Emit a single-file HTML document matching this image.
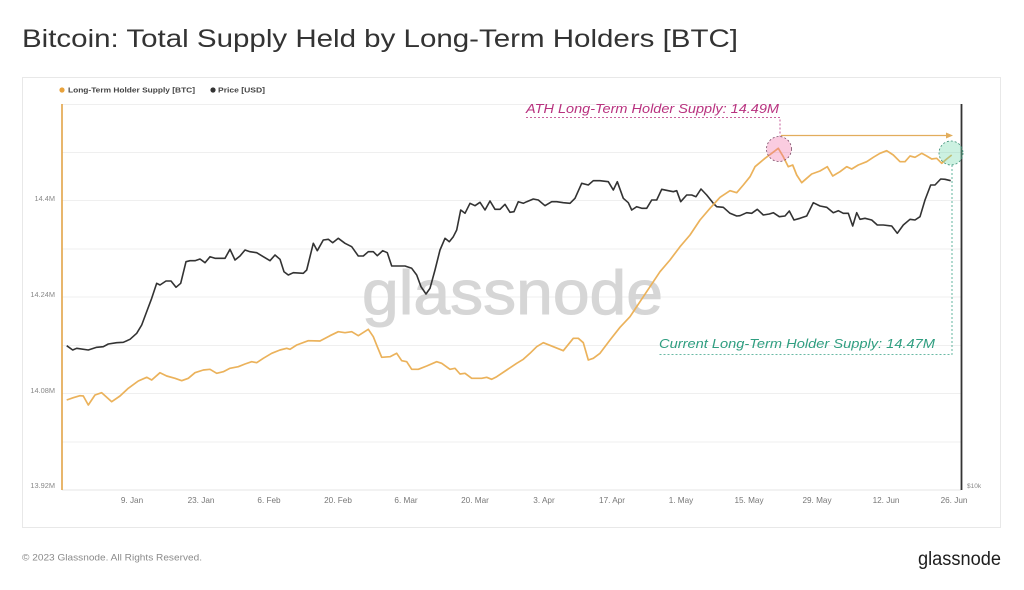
<!DOCTYPE html>
<html><head><meta charset="utf-8"><style>
html,body{margin:0;padding:0;background:#fff;}
svg{display:block;}
text{font-family:"Liberation Sans",sans-serif;}
</style></head><body>
<svg width="1024" height="590" viewBox="0 0 1024 590" xmlns="http://www.w3.org/2000/svg">
<rect width="1024" height="590" fill="#fff"/>
<text x="22" y="47" font-size="25" fill="#333" textLength="716" lengthAdjust="spacingAndGlyphs">Bitcoin: Total Supply Held by Long-Term Holders [BTC]</text>
<rect x="22.5" y="77.5" width="978" height="450" fill="#fff" stroke="#e8e8e8" stroke-width="1"/>
<!-- legend -->
<circle cx="62" cy="90" r="2.6" fill="#e8a23c"/>
<text x="68" y="92.5" font-size="7.2" font-weight="bold" fill="#444" textLength="127" lengthAdjust="spacingAndGlyphs">Long-Term Holder Supply [BTC]</text>
<circle cx="213" cy="90" r="2.6" fill="#333"/>
<text x="218" y="92.5" font-size="7.2" font-weight="bold" fill="#444" textLength="47" lengthAdjust="spacingAndGlyphs">Price [USD]</text>
<!-- gridlines -->
<g stroke="#efefef" stroke-width="1">
<line x1="62" y1="104.5" x2="961" y2="104.5"/>
<line x1="62" y1="152.5" x2="961" y2="152.5"/>
<line x1="62" y1="200.5" x2="961" y2="200.5"/>
<line x1="62" y1="249" x2="961" y2="249"/>
<line x1="62" y1="297" x2="961" y2="297"/>
<line x1="62" y1="345.5" x2="961" y2="345.5"/>
<line x1="62" y1="393.5" x2="961" y2="393.5"/>
<line x1="62" y1="442" x2="961" y2="442"/>
<line x1="62" y1="490" x2="961" y2="490" stroke="#e4e4e4"/>
</g>
<!-- y labels -->
<g font-size="7.4" fill="#888" text-anchor="end">
<text x="55" y="201">14.4M</text>
<text x="55" y="297">14.24M</text>
<text x="55" y="393">14.08M</text>
<text x="55" y="488">13.92M</text>
</g>
<text x="967" y="488" font-size="6.5" fill="#888">$10k</text>
<!-- x labels -->
<g font-size="8.2" fill="#777" text-anchor="middle">
<text x="132" y="503">9. Jan</text>
<text x="201" y="503">23. Jan</text>
<text x="269" y="503">6. Feb</text>
<text x="338" y="503">20. Feb</text>
<text x="406" y="503">6. Mar</text>
<text x="475" y="503">20. Mar</text>
<text x="544" y="503">3. Apr</text>
<text x="612" y="503">17. Apr</text>
<text x="681" y="503">1. May</text>
<text x="749" y="503">15. May</text>
<text x="817" y="503">29. May</text>
<text x="886" y="503">12. Jun</text>
<text x="954" y="503">26. Jun</text>
</g>
<!-- watermark -->
<text x="362" y="314" font-size="62" fill="#d6d6d6" stroke="#d6d6d6" stroke-width="1" textLength="301" lengthAdjust="spacingAndGlyphs">glassnode</text>
<!-- axes -->
<line x1="62" y1="104" x2="62" y2="490" stroke="#e3a447" stroke-width="1.6"/>
<line x1="961.5" y1="104" x2="961.5" y2="490" stroke="#333" stroke-width="1.8"/>
<!-- black price line -->
<polyline fill="none" stroke="#333" stroke-width="1.6" stroke-linejoin="round" points="66.7,345.7 72.7,350 76.7,348.3 88.3,350 96.7,347.3 103.3,346.7 108.3,344 116.7,342.7 123.3,342.3 130,339.3 136.7,333.3 141.7,325 147.3,310 151.7,298.3 156.7,283.3 160,285 166,281 171,281 176,287.3 180.7,283.3 186,261.7 190,260.7 195,260.7 200,259 205,262.7 210,256.7 215,258.3 220,258.3 225,258.3 230,249.3 235,260 240,256 245,250 250,251.7 256.7,252.7 263.3,256.7 270,260.7 275,255 280,259.3 284,271.7 288.3,275 293.3,272.7 303.3,273.3 306.7,270 313.3,243.3 317.3,250.7 323.3,240 328.3,239.3 332.7,242.7 338.3,238.3 345,243.3 351.7,246.7 358.3,256 363.3,256 368.3,251.7 373.3,251.7 377.3,255.7 382.7,250.7 387.3,252.7 391.7,266 398.3,266 405,266 411.7,268.3 416.7,275 421,286.7 426,294 430,288.3 435,270 440,250 445,238.3 449.3,241.7 453.3,236.7 456.7,230 460.7,210 465,213.3 470,203.3 475,205.7 480,202.3 485,210 490,201 495,209.3 500,209.3 505,204.3 510,212.3 514,211.7 518.3,201.7 523.3,203.3 526.7,201.7 533.3,199 538.3,200 545,205.7 551.7,201.7 556.7,201.7 563.3,202.7 570,203.3 575,198.3 581.7,183.3 588.3,185 593.3,180.7 600,180.7 608.3,181.7 613.3,190 617.3,181.7 623.3,198.3 628.3,202.7 631.7,210 636.7,206.7 641.7,208.3 646.7,208.3 651.7,200 656.7,200 661.7,189.3 668.3,190.7 673.3,191.7 676.7,190.7 680.7,201.7 686.7,195 691.7,195 696,196.7 701,189 706.7,195 713.3,203.3 716.7,206.7 723.3,207.3 730,213.3 736.7,216 740,215.7 746.7,212.7 751.7,213.3 757.3,209.3 763.3,215 769.3,214 773.3,212.7 779.3,216.7 785,216 789.3,211 794,220 800,218.3 806.7,216 813.3,202.7 820,206 826.7,207.3 833.3,212.7 838.3,210.7 843.3,213.3 848.3,213.3 852.7,226 856.7,212.7 860,219.3 865,218.3 871.7,220 877.3,225 883.3,225 891.7,226 897.3,233.3 903.3,225 910,219.3 915,220 920,216.7 925,200 930.7,185 935,185 940.7,179 945,179.3 950.7,180.7"/>
<!-- orange LTH supply line -->
<polyline fill="none" stroke="#ebb25b" stroke-width="1.7" stroke-linejoin="round" points="66.7,400 73.3,397.7 80,395.7 83.3,396 88.3,405 95,395 101.7,392.7 111.7,401.7 120,396 128.3,388.3 138.3,381 146.7,377.3 151.7,380 160,372.7 166.7,376 175,378.3 181.7,380.7 188.3,378.3 195,372.7 203.3,370 210,369.3 216.7,373.3 223.3,371.7 230,368.3 238.3,366.7 245,364 251.7,361.7 256.7,362.7 263.3,358.3 271.7,353.3 280,350 286.7,348.3 290,349.3 296.7,345 308.3,340.7 320,341 330,335.7 338.3,331.7 345,332.7 351.7,331.7 358.3,335.7 368.3,329.3 373.3,336.7 377.3,346.7 381.7,357.3 390,356.7 396.7,353.3 401.7,360.7 406.7,361.7 411.7,369.3 418.3,369.3 426.7,366 436.7,361.7 441.7,363.3 450,369.3 455,368.3 460,374 465,373.3 471.7,378.3 481.7,378.3 486.7,377.3 491.7,379.3 496.7,376.7 506.7,370 516.7,363.3 523.3,359.3 530,353.3 536.7,346.7 543.3,342.7 553.3,346.7 563.3,350.7 573.3,338.3 578.3,338.3 583.3,342.7 588.3,360 593.3,358.3 600,353.3 610,340 620,327.3 630,316.7 640,301.7 650,286.7 660,271.7 670,260 680,246.7 690,235 700,220 710,208.3 720,197.3 730,190.7 736.7,192.7 743.3,185 750,176.7 755,166.7 765,158.3 771.7,153.3 778.3,148.3 783.3,156.7 788.3,166.7 792.7,165 796.7,175 801.7,182.7 806.7,178.3 811.7,174 820,171 827.3,166.7 832.7,176 840,171.7 846.7,166.7 851.7,169 858.3,165 866.7,161.7 873.3,157.3 880,153.3 886.7,150.7 893.3,155 900,161.7 905,161.7 910,156 915,157.3 921.7,153.3 926.7,156 931.7,159 936.7,158.3 941.7,163.3 946.7,159 951.7,155"/>
<!-- ATH annotation -->
<text x="526" y="113" font-size="13" font-style="italic" fill="#b8327f" textLength="253" lengthAdjust="spacingAndGlyphs">ATH Long-Term Holder Supply: 14.49M</text>
<polyline points="526,117.5 780,117.5 780,136.5" fill="none" stroke="#b8327f" stroke-width="0.8" stroke-dasharray="2,2"/>
<circle cx="779" cy="149" r="12.5" fill="rgba(240,110,165,0.35)" stroke="#7a4a66" stroke-width="0.8" stroke-dasharray="2,2"/>
<!-- arrow -->
<line x1="781" y1="135.5" x2="949" y2="135.5" stroke="#e2ad5c" stroke-width="1.2"/>
<polygon points="953,135.5 946,132.5 946,138.5" fill="#e2ad5c"/>
<!-- current annotation -->
<circle cx="951" cy="153" r="12" fill="rgba(110,215,170,0.35)" stroke="#3d8f78" stroke-width="0.8" stroke-dasharray="2,2"/>
<polyline points="952,165 952,354.5 659,354.5" fill="none" stroke="#3aa487" stroke-width="0.8" stroke-dasharray="2,2"/>
<text x="659" y="348" font-size="13" font-style="italic" fill="#2f9e80" textLength="276" lengthAdjust="spacingAndGlyphs">Current Long-Term Holder Supply: 14.47M</text>
<!-- footer -->
<text x="22" y="560.5" font-size="9.5" fill="#8a8a8a" textLength="180" lengthAdjust="spacingAndGlyphs">© 2023 Glassnode. All Rights Reserved.</text>
<text x="918" y="565" font-size="19" fill="#1e1e1e" textLength="83" lengthAdjust="spacingAndGlyphs">glassnode</text>
</svg>
</body></html>
